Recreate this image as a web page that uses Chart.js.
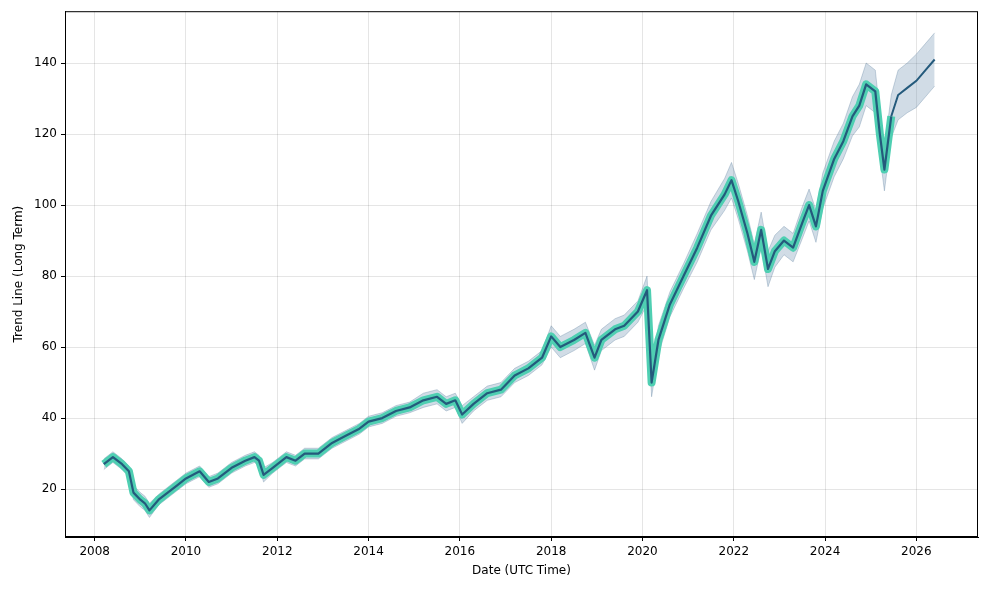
<!DOCTYPE html>
<html><head><meta charset="utf-8">
<script src="https://cdn.jsdelivr.net/npm/chart.js@4"></script>
<style>html,body{margin:0;padding:0;background:#fff}#w{width:987px;height:590px}</style>
</head><body><div id="w"><canvas id="c"></canvas></div>
<script>
const dates=[2008.2,2008.3,2008.4,2008.5,2008.6,2008.75,2008.85,2009.0,2009.1,2009.2,2009.4,2009.6,2009.8,2010.0,2010.3,2010.5,2010.7,2011.0,2011.3,2011.5,2011.6,2011.7,2011.9,2012.2,2012.4,2012.6,2012.9,2013.2,2013.5,2013.8,2014.0,2014.3,2014.6,2014.9,2015.2,2015.5,2015.7,2015.9,2016.05,2016.3,2016.6,2016.9,2017.2,2017.5,2017.8,2018.0,2018.2,2018.5,2018.75,2018.95,2019.1,2019.4,2019.6,2019.9,2020.1,2020.2,2020.35,2020.6,2020.9,2021.2,2021.5,2021.8,2021.95,2022.1,2022.3,2022.45,2022.6,2022.75,2022.9,2023.1,2023.3,2023.5,2023.65,2023.8,2023.95,2024.2,2024.4,2024.6,2024.75,2024.9,2025.1,2025.2,2025.3,2025.45];
const values=[27,28,29,28,27,25,19,17,16,14,17,19,21,23,25,22,23,26,28,29,28,24,26,29,28,30,30,33,35,37,39,40,42,43,45,46,44,45,41,44,47,48,52,54,57,63,60,62,64,57,62,65,66,70,76,50,62,72,80,88,97,103,107,101,92,84,93,82,87,90,88,95,100,94,104,113,118,125,128,134,132,120,110,125];
const spread=[1.5,1.5,1.5,1.5,1.5,1.5,2,2,2,2,1.5,1.5,1.5,1.5,1.5,1.5,1.5,1.5,1.5,1.5,1.5,2,1.5,1.5,1.5,1.5,1.5,1.5,1.5,1.5,1.5,1.5,1.5,1.5,2,2,2,2,2.5,2,2,2,2,2,2,3,3,3,3,3.5,3,3,3,3,4,4,4,3.5,3.5,4,4,4.5,5,5,5,5,5,5,4.5,4,4,4.5,4.5,4.5,5,5,5,5.5,6,6,6,6,6,6];
const fcDates=[2025.45,2025.6,2025.8,2026.0,2026.2,2026.4];
const fcValues=[125,131,133,135,138,141];
const fcSpread=[6,7,7,7.5,7.5,7.5];
const ticksX=[2008,2010,2012,2014,2016,2018,2020,2022,2024,2026];
const ticksY=[20,40,60,80,100,120,140];
const allD=dates.concat(fcDates.slice(1)),allV=values.concat(fcValues.slice(1)),allS=spread.concat(fcSpread.slice(1));
const pts=(xs,ys)=>xs.map((x,i)=>({x,y:ys[i]}));
const frame={id:'frame',afterDraw(c){const a=c.chartArea,x=c.ctx;x.save();x.strokeStyle='#000';x.lineWidth=1;x.strokeRect(a.left+0.5,a.top+0.5,a.right-a.left-1,a.bottom-a.top-1);x.restore();}};
Chart.defaults.font.family='DejaVu Sans';Chart.defaults.font.size=12;Chart.defaults.color='#000';
new Chart(document.getElementById('c'),{type:'line',plugins:[frame],data:{datasets:[
{order:3,data:allD.map((x,i)=>({x,y:allV[i]+allS[i]})),borderColor:'rgba(80,115,150,0.3)',borderWidth:1,pointRadius:0,fill:'+1',backgroundColor:'rgba(90,130,165,0.28)'},
{order:4,data:allD.map((x,i)=>({x,y:allV[i]-allS[i]})),borderColor:'rgba(80,115,150,0.3)',borderWidth:1,pointRadius:0,fill:false},
{order:2,data:pts(dates,values),borderColor:'#4fcfb2',borderWidth:8,borderJoinStyle:'round',pointRadius:0,fill:false},
{order:1,data:pts(dates,values),borderColor:'#245a7c',borderWidth:2.2,borderJoinStyle:'round',pointRadius:0,fill:false},
{order:0,data:pts(fcDates,fcValues),borderColor:'#245a7c',borderWidth:2,pointRadius:0,fill:false}
]},options:{animation:false,responsive:true,maintainAspectRatio:false,
layout:{padding:{left:8,right:9,top:10,bottom:8}},
plugins:{legend:{display:false},tooltip:{enabled:false}},
scales:{x:{type:'linear',min:2007.35,max:2027.35,afterBuildTicks:a=>{a.ticks=ticksX.map(v=>({value:v}))},
ticks:{callback:v=>String(v),maxRotation:0,padding:4},grid:{color:'rgba(0,0,0,0.1)',tickLength:4,tickColor:'#000'},border:{color:'#000'},
title:{display:true,text:'Date (UTC Time)',padding:{top:2}},afterFit:a=>{a.height=45}},
y:{min:6.5,max:154.6,afterBuildTicks:a=>{a.ticks=ticksY.map(v=>({value:v}))},ticks:{padding:4},
grid:{color:'rgba(0,0,0,0.1)',tickLength:4,tickColor:'#000'},border:{color:'#000'},
title:{display:true,text:'Trend Line (Long Term)'},afterFit:a=>{a.width=57}}}}});
</script></body></html>
